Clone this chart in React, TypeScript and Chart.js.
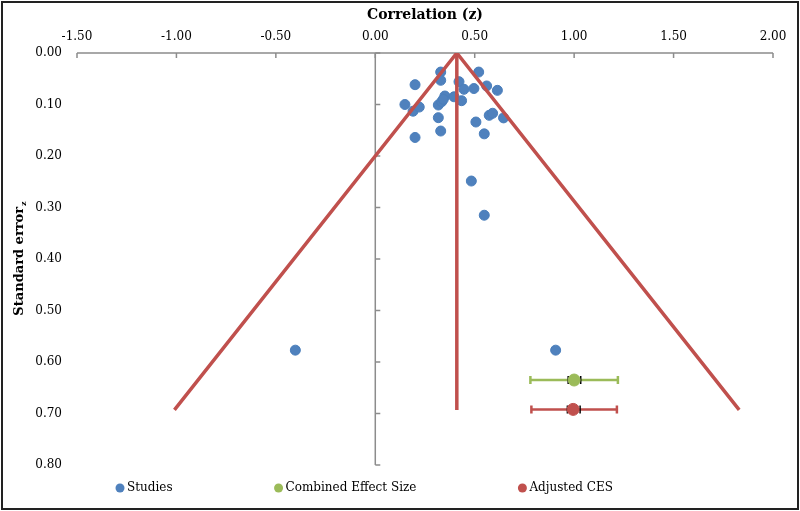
import React, { useEffect, useRef } from 'react';
import { Chart, registerables } from 'chart.js';

Chart.register(...registerables);

// ---- data ----
const studyX = [0.329, 0.52, 0.2, 0.329, 0.421, 0.446, 0.496, 0.56, 0.614, 0.149, 0.19, 0.221, 0.317, 0.334, 0.35, 0.342, 0.396, 0.434, 0.317, 0.329, 0.2, 0.506, 0.573, 0.59, 0.645, 0.548, 0.483, 0.548, -0.402, 0.907];
const studySE = [0.037, 0.037, 0.0615, 0.053, 0.0557, 0.0705, 0.069, 0.064, 0.0725, 0.1, 0.113, 0.105, 0.101, 0.0945, 0.0835, 0.09, 0.085, 0.0926, 0.1256, 0.1515, 0.164, 0.134, 0.121, 0.117, 0.126, 0.157, 0.2486, 0.315, 0.577, 0.577];

const funnelX = [-1.01, 0.41, 1.83];
const funnelSE = [0.693, 0, 0.693];
const centreX = [0.41, 0.41];
const centreSE = [0, 0.693];

const combinedX = [1.0];
const combinedSE = [0.635];
const combinedLow = [0.78];
const combinedHigh = [1.22];
const combinedInnerLow = [0.97];
const combinedInnerHigh = [1.033];

const adjustedX = [0.995];
const adjustedSE = [0.692];
const adjustedLow = [0.785];
const adjustedHigh = [1.215];
const adjustedInnerLow = [0.966];
const adjustedInnerHigh = [1.03];

const legendLabels = ['Studies', 'Combined Effect Size', 'Adjusted CES'];
const xTitle = 'Correlation (z)';
const yTitle = 'Standard error';
const yTitleSub = 'z';

const FONT = "'DejaVu Serif', serif";
const BLUE = '#4F81BD';
const GREEN = '#9BBB59';
const RED = '#C0504D';
const AXIS = '#8c8c8c';

const toPts = (xs: number[], ys: number[]) => xs.map((x, i) => ({ x, y: ys[i] }));

const customPlugin = {
  id: 'custom',
  beforeDatasetsDraw(chart: any) {
    const { ctx } = chart;
    const xs = chart.scales.x;
    const ys = chart.scales.y;
    ctx.save();
    // top axis
    ctx.strokeStyle = AXIS;
    ctx.lineWidth = 1.5;
    const y0 = ys.getPixelForValue(0);
    ctx.beginPath();
    ctx.moveTo(xs.getPixelForValue(xs.min), y0);
    ctx.lineTo(xs.getPixelForValue(xs.max), y0);
    xs.ticks.forEach((t: any) => {
      const px = xs.getPixelForValue(t.value);
      ctx.moveTo(px, y0);
      ctx.lineTo(px, y0 + 5);
    });
    ctx.stroke();
    // vertical axis at x = 0
    const x0 = xs.getPixelForValue(0);
    ctx.beginPath();
    ctx.moveTo(x0, ys.getPixelForValue(ys.min));
    ctx.lineTo(x0, ys.getPixelForValue(ys.max));
    ys.ticks.forEach((t: any) => {
      const py = ys.getPixelForValue(t.value);
      ctx.moveTo(x0, py);
      ctx.lineTo(x0 + 5, py);
    });
    ctx.stroke();

    // error bars
    const bar = (lo: number, hi: number, yv: number, color: string, w: number, cap: number) => {
      const py = ys.getPixelForValue(yv);
      const pl = xs.getPixelForValue(lo);
      const ph = xs.getPixelForValue(hi);
      ctx.strokeStyle = color;
      ctx.lineWidth = w;
      ctx.beginPath();
      ctx.moveTo(pl, py);
      ctx.lineTo(ph, py);
      ctx.moveTo(pl, py - cap);
      ctx.lineTo(pl, py + cap);
      ctx.moveTo(ph, py - cap);
      ctx.lineTo(ph, py + cap);
      ctx.stroke();
    };
    combinedX.forEach((_, i) => {
      bar(combinedLow[i], combinedHigh[i], combinedSE[i], GREEN, 2.5, 4);
      bar(combinedInnerLow[i], combinedInnerHigh[i], combinedSE[i], '#000', 1.5, 4);
    });
    adjustedX.forEach((_, i) => {
      bar(adjustedLow[i], adjustedHigh[i], adjustedSE[i], RED, 2.5, 4);
      bar(adjustedInnerLow[i], adjustedInnerHigh[i], adjustedSE[i], '#000', 1.5, 4);
    });
    ctx.restore();
  },
  afterDraw(chart: any) {
    const { ctx, chartArea, width, height } = chart;
    ctx.save();
    // frame
    ctx.strokeStyle = '#222';
    ctx.lineWidth = 2;
    ctx.strokeRect(2, 2, width - 4, height - 4);

    // y title with subscript
    ctx.fillStyle = '#000';
    ctx.translate(20, (chartArea.top + chartArea.bottom) / 2);
    ctx.rotate(-Math.PI / 2);
    ctx.font = `bold 13px ${FONT}`;
    const w1 = ctx.measureText(yTitle).width;
    ctx.font = `bold 8px ${FONT}`;
    const w2 = ctx.measureText(yTitleSub).width;
    const start = -(w1 + w2) / 2;
    ctx.textBaseline = 'middle';
    ctx.textAlign = 'left';
    ctx.font = `bold 13px ${FONT}`;
    ctx.fillText(yTitle, start, 0);
    ctx.font = `bold 8px ${FONT}`;
    ctx.fillText(yTitleSub, start + w1 + 1, 4);
    ctx.restore();

    // legend
    ctx.save();
    ctx.font = `12px ${FONT}`;
    ctx.textBaseline = 'middle';
    ctx.textAlign = 'left';
    const colors = [BLUE, GREEN, RED];
    const ly = chartArea.bottom + 23;
    let lx = chartArea.left + 38;
    legendLabels.forEach((label, i) => {
      ctx.fillStyle = colors[i];
      ctx.beginPath();
      ctx.arc(lx + 5, ly, 4.5, 0, Math.PI * 2);
      ctx.fill();
      ctx.fillStyle = '#000';
      ctx.fillText(label, lx + 12, ly);
      lx += 12 + ctx.measureText(label).width + 101;
    });
    ctx.restore();
  },
};

export default function App() {
  const ref = useRef<HTMLCanvasElement | null>(null);
  useEffect(() => {
    document.body.style.margin = '0';
    if (!ref.current) return;
    const chart = new Chart(ref.current, {
      type: 'scatter',
      data: {
        datasets: [
          {
            label: 'Funnel',
            data: toPts(funnelX, funnelSE),
            showLine: true,
            borderColor: RED,
            borderWidth: 3.5,
            pointRadius: 0,
            order: 0,
          },
          {
            label: 'Centre',
            data: toPts(centreX, centreSE),
            showLine: true,
            borderColor: RED,
            borderWidth: 3.5,
            pointRadius: 0,
            order: 0,
          },
          {
            label: legendLabels[0],
            data: toPts(studyX, studySE),
            backgroundColor: BLUE,
            borderColor: '#4A7EBB',
            borderWidth: 1,
            pointRadius: 5,
            order: 1,
          },
          {
            label: legendLabels[1],
            data: toPts(combinedX, combinedSE),
            backgroundColor: GREEN,
            borderColor: GREEN,
            pointRadius: 6,
            order: 0,
          },
          {
            label: legendLabels[2],
            data: toPts(adjustedX, adjustedSE),
            backgroundColor: RED,
            borderColor: RED,
            pointRadius: 6,
            order: 0,
          },
        ],
      },
      options: {
        animation: false,
        responsive: false,
        layout: { padding: { top: 0, left: 0, right: 27, bottom: 46 } },
        plugins: {
          legend: { display: false },
          tooltip: { enabled: false },
        },
        scales: {
          x: {
            type: 'linear',
            position: 'top',
            min: -1.5,
            max: 2,
            grid: { display: false, drawTicks: false },
            border: { display: false },
            ticks: {
              stepSize: 0.5,
              padding: 9,
              color: '#000',
              font: { family: FONT, size: 12 },
              callback: (v: any) => Number(v).toFixed(2),
            },
            title: {
              display: true,
              text: xTitle,
              color: '#000',
              padding: { top: 7, bottom: 0 },
              font: { family: FONT, size: 14, weight: 'bold' },
            },
            afterFit: (s: any) => {
              s.height = 53;
            },
          },
          y: {
            type: 'linear',
            position: 'left',
            reverse: true,
            min: 0,
            max: 0.8,
            grid: { display: false, drawTicks: false },
            border: { display: false },
            ticks: {
              stepSize: 0.1,
              padding: 15,
              color: '#000',
              font: { family: FONT, size: 12 },
              callback: (v: any) => Number(v).toFixed(2),
            },
            title: { display: false },
            afterFit: (s: any) => {
              s.width = 77;
            },
          },
        },
      },
      plugins: [customPlugin],
    });
    return () => chart.destroy();
  }, []);
  return (
    <div style={{ width: 800, height: 511 }}>
      <canvas ref={ref} width={800} height={511} />
    </div>
  );
}
